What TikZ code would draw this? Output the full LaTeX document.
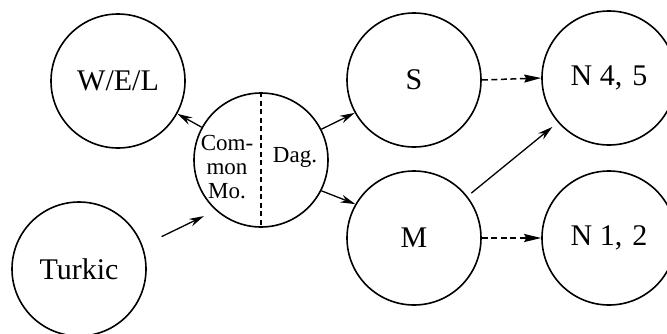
\documentclass[tikz,border=0pt]{standalone}
\usepackage{fontspec}
\setmainfont{Liberation Serif}
\usetikzlibrary{arrows.meta,calc}
\begin{document}
\begin{tikzpicture}[x=1pt,y=-1pt,
  bub/.style={circle,draw,line width=1.6pt,minimum size=134pt,inner sep=0pt,font=\fontsize{30}{32}\selectfont},
  con/.style={line width=1.3pt,-{Stealth[length=15pt,width=8pt,inset=5pt]}},
  dcon/.style={line width=1.5pt,dash pattern=on 6pt off 3.5pt,-{Stealth[length=17pt,width=8pt,inset=2pt]}},
  small/.style={font=\fontsize{23}{24}\selectfont,inner sep=0pt,align=center}]
\useasboundingbox (0,0) rectangle (667,333);
\node[bub] (w) at (118,81) {W/E/L};
\node[bub] (t) at (79,269) {Turkic};
\node[bub] (c) at (261,160) {};
\node[bub] (s) at (414,80) {S};
\node[bub] (m) at (414,238) {M};
\node[bub] (n45) at (609,78) {N 4,\,\,5};
\node[bub] (n12) at (609,238) {N 1,\,\,2};
\draw[line width=1.1pt,dash pattern=on 5pt off 3.5pt] (c.north) -- (c.south);
\node[small] (cm) at (227,167) {Com-\\mon\\Mo.};
\node[small] (dg) at (295,157) {Dag.};
\draw[con] (c) -- (w);
\draw[con,shorten <=21pt,shorten >=13pt] (t.20) -- (c.228);
\draw[con] (c.27) -- (s.209);
\draw[con] (c.333) -- (m.150);
\draw[con,shorten <=5pt,shorten >=7pt] (m.38) -- (n45.221);
\draw[dcon] (s.east) -- (n45.west);
\draw[dcon] (m.east) -- (n12.west);
\end{tikzpicture}
\end{document}
